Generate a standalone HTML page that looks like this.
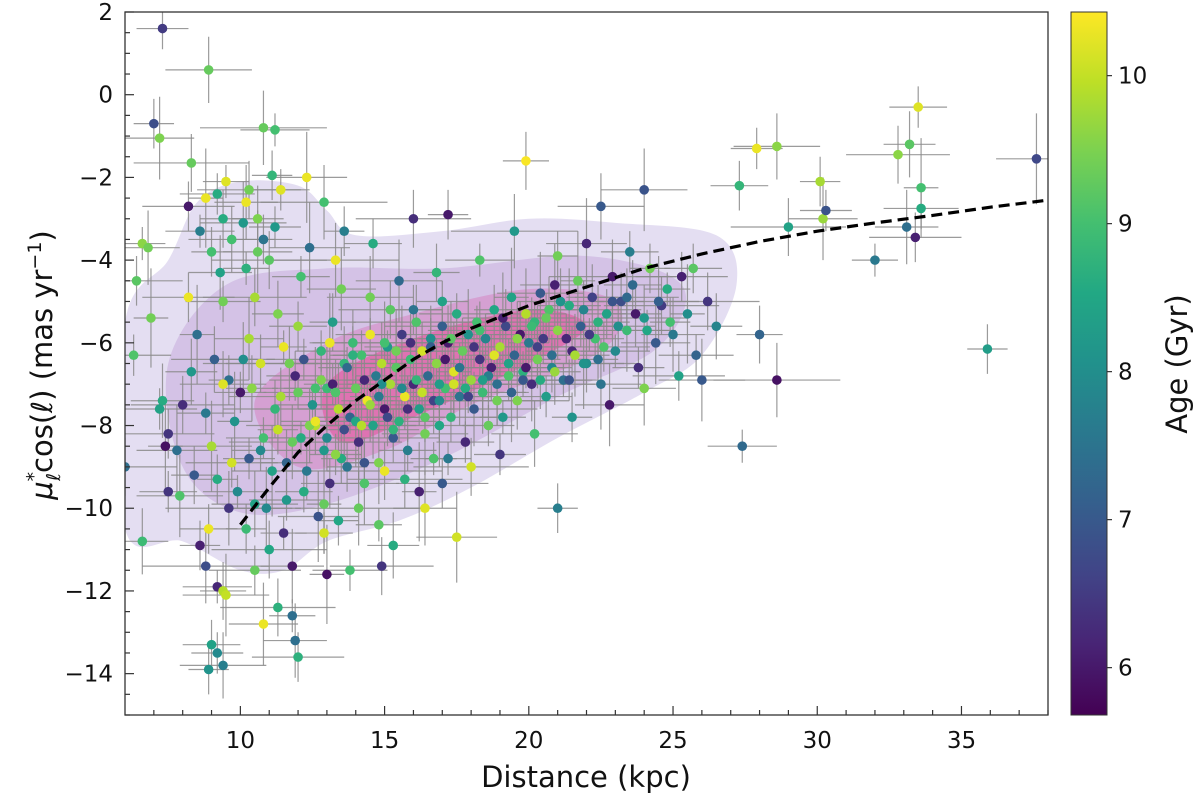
<!DOCTYPE html>
<html>
<head>
<meta charset="utf-8">
<style>
html,body{margin:0;padding:0;background:#fff;}
svg{display:block;font-family:"DejaVu Sans","Liberation Sans",sans-serif;}
</style>
</head>
<body>
<svg id="chart" width="1200" height="803" viewBox="0 0 1200 803" xmlns="http://www.w3.org/2000/svg">
  <defs>
    <clipPath id="plotclip"><rect x="125" y="12" width="923" height="703"/></clipPath>
    <linearGradient id="viridis" x1="0" y1="1" x2="0" y2="0">
      <stop offset="0" stop-color="#440154"/>
      <stop offset="0.1" stop-color="#482475"/>
      <stop offset="0.2" stop-color="#414487"/>
      <stop offset="0.3" stop-color="#355f8d"/>
      <stop offset="0.4" stop-color="#2a788e"/>
      <stop offset="0.5" stop-color="#21918c"/>
      <stop offset="0.6" stop-color="#22a884"/>
      <stop offset="0.7" stop-color="#44bf70"/>
      <stop offset="0.8" stop-color="#7ad151"/>
      <stop offset="0.9" stop-color="#bddf26"/>
      <stop offset="1" stop-color="#fde725"/>
    </linearGradient>
  </defs>
  <g id="kde" clip-path="url(#plotclip)"></g>
  <g id="errbars" clip-path="url(#plotclip)"></g>
  <g id="points" clip-path="url(#plotclip)"></g>
  <g id="fit" clip-path="url(#plotclip)"></g>
  <rect x="125" y="12" width="923" height="703" fill="none" stroke="#333" stroke-width="1.3"/>
  <g id="axes"></g>
  <text x="586" y="787" font-size="29" text-anchor="middle" fill="#111">Distance (kpc)</text>
  <text transform="translate(52,365) rotate(-90)" font-size="29" text-anchor="middle" fill="#111"><tspan font-style="italic">μ</tspan><tspan font-size="19" dy="-12" font-style="italic">*</tspan><tspan font-size="19" dy="20" dx="-9" font-style="italic">ℓ</tspan><tspan dy="-8">cos(</tspan><tspan font-style="italic">ℓ</tspan><tspan>) (mas yr</tspan><tspan font-size="19" dy="-11">−1</tspan><tspan dy="11">)</tspan></text>
  <rect x="1071" y="12" width="36" height="703" fill="url(#viridis)" stroke="#333" stroke-width="1"/>
  <g id="cbticks"></g>
  <text transform="translate(1187,364) rotate(-90)" font-size="29" text-anchor="middle" fill="#111">Age (Gyr)</text>
</svg>
<script>
// ---- data ----
const dist = [
7.3,8.9,7.0,7.2,8.3,6.6,6.8,6.4,6.9,6.3,6.0,6.6,7.5,7.8,8.6,8.8,9.2,9.4,9.5,9.0,9.2,9.4,8.9,10.8,11.3,11.8,11.9,12.0,13.0,13.8,14.9,15.3,12.9,17.5,21.0,10.8,11.2,19.9,24.0,27.3,27.9,28.6,30.1,30.2,29.0,32.0,33.1,33.4,33.6,33.6,32.8,33.2,33.5,37.6,35.9,28.6,27.4,28.0,26.0,25.7,30.3,22.5,17.2,13.5,16.0,
9.5,10.2,8.2,8.8,9.2,10.3,10.6,11.4,12.3,11.1,12.9,8.6,9.4,10.1,10.8,11.2,9.7,9.0,10.6,11.0,10.2,9.3,8.2,8.5,9.4,10.5,11.3,12.1,12.4,13.6,13.3,14.5,13.2,14.5,12.0,12.8,9.1,9.6,10.3,10.7,11.5,
7.3,7.5,7.4,7.2,8.0,8.3,8.8,9.0,9.2,9.6,9.9,8.4,7.9,8.9,10.3,10.5,10.2,10.9,11.0,11.5,11.8,10.5,9.8,10.8,11.2,11.6,12.2,12.7,13.4,14.1,12.0,12.6,13.0,11.9,10.0,9.4,13.7,14.3,15.0,14.8,16.4,17.0,16.2,
12.5,12.8,13.0,13.2,13.4,13.5,13.6,13.8,14.0,14.1,14.2,14.4,14.6,14.7,14.8,15.0,15.1,15.2,15.3,15.4,15.5,15.6,15.7,15.8,15.9,16.0,16.1,16.2,16.3,16.4,16.5,16.6,16.7,16.8,16.9,17.0,17.1,17.2,17.3,17.4,17.5,17.6,17.7,17.8,17.9,18.0,18.1,18.2,18.3,18.4,18.5,18.6,18.7,18.8,18.9,19.0,19.1,19.2,19.3,19.4,19.5,19.6,19.7,19.8,19.9,20.0,20.1,20.2,20.3,20.4,20.5,20.6,20.7,20.8,20.9,21.0,21.2,21.4,21.5,21.7,21.8,22.0,22.2,22.3,22.5,22.7,22.9,23.0,23.2,23.4,23.6,23.8,24.0,24.2,24.4,24.6,24.8,25.0,25.3,25.5,25.8,26.2,26.5,23.5,22.0,21.0,19.5,18.3,16.8,15.5,14.6,19.0,20.2,21.5,22.8,18.0,17.2,24.0,25.2,13.1,12.2,11.4,
10.4,10.7,11.1,11.3,11.7,12.1,12.3,12.6,13.1,13.3,13.9,14.3,14.9,15.7,16.7,10.1,9.7,12.9,11.6,15.2,
13.3,13.7,14.0,14.3,14.5,14.9,15.1,15.4,15.6,15.9,16.1,16.3,16.6,16.9,17.1,17.3,17.6,17.8,18.1,18.3,18.6,18.8,19.1,19.3,19.6,19.8,20.1,20.3,20.6,20.8,21.1,21.3,21.6,21.9,22.1,22.4,22.6,22.9,23.1,23.4,23.7,24.1,24.5,24.9,12.4,12.9,13.6,14.2,14.8,15.3,15.8,16.4,16.9,17.4,17.9,18.4,18.9,19.4,19.9,20.4,20.9,21.4,21.9,22.4,11.8,12.6,13.9,15.0,16.0,17.0
];
const pm = [
1.6,0.6,-0.7,-1.05,-1.65,-3.6,-3.7,-4.5,-5.4,-6.3,-9.0,-10.8,-9.6,-8.6,-10.9,-11.4,-11.9,-12.0,-12.1,-13.3,-13.5,-13.8,-13.9,-12.8,-12.4,-12.6,-13.2,-13.6,-11.6,-11.5,-11.4,-10.9,-10.6,-10.7,-10.0,-0.8,-0.85,-1.6,-2.3,-2.2,-1.3,-1.25,-2.1,-3.0,-3.2,-4.0,-3.2,-3.45,-2.25,-2.75,-1.45,-1.2,-0.3,-1.55,-6.15,-6.9,-8.5,-5.8,-6.9,-4.2,-2.8,-2.7,-2.9,-4.7,-3.0,
-2.1,-2.6,-2.7,-2.5,-2.4,-2.3,-3.0,-2.3,-2.0,-1.95,-2.6,-3.3,-3.0,-3.1,-3.5,-3.2,-3.5,-3.8,-3.8,-4.0,-4.2,-4.3,-4.9,-5.8,-5.0,-4.9,-5.3,-4.4,-3.7,-3.3,-4.0,-5.8,-5.5,-4.9,-5.6,-6.2,-6.4,-6.9,-5.9,-6.5,-6.1,
-7.4,-8.2,-8.5,-7.6,-7.5,-6.7,-7.7,-8.5,-9.3,-10.0,-9.6,-9.2,-9.7,-10.5,-8.8,-9.9,-10.5,-10.0,-11.0,-10.6,-11.4,-11.5,-7.9,-8.3,-7.6,-8.9,-9.6,-10.2,-10.3,-10.0,-7.2,-8.0,-7.1,-6.8,-7.2,-7.0,-9.0,-9.4,-9.1,-10.4,-10.0,-9.4,-9.6,
-7.5,-6.9,-8.3,-7.0,-7.6,-8.8,-6.5,-7.8,-7.1,-8.4,-6.3,-7.4,-8.0,-6.8,-8.9,-7.6,-6.1,-7.0,-8.3,-6.6,-7.9,-5.8,-7.3,-8.6,-6.4,-7.0,-5.5,-7.6,-6.2,-8.2,-6.8,-5.9,-7.4,-6.5,-8.0,-5.6,-7.1,-6.0,-7.8,-6.7,-5.3,-7.3,-6.2,-8.4,-5.8,-6.9,-7.6,-5.5,-6.4,-7.2,-5.9,-8.0,-6.6,-5.2,-7.0,-6.1,-7.8,-5.6,-6.8,-4.9,-6.3,-7.4,-5.8,-6.7,-5.3,-6.0,-7.0,-5.5,-6.4,-4.8,-5.9,-7.3,-5.2,-6.6,-4.6,-5.7,-6.9,-5.1,-6.2,-4.5,-5.6,-6.5,-4.9,-5.9,-7.0,-5.3,-4.4,-6.2,-5.0,-5.7,-4.6,-6.6,-5.4,-4.2,-6.0,-5.1,-4.7,-5.8,-4.4,-5.3,-6.3,-5.0,-5.6,-3.8,-3.6,-3.9,-3.3,-4.0,-4.3,-4.5,-3.6,-8.7,-8.2,-7.8,-7.5,-9.0,-8.8,-7.1,-6.8,-6.0,-6.4,-7.3,
-7.1,-8.6,-9.1,-8.1,-6.5,-8.3,-9.1,-7.1,-9.4,-8.7,-6.0,-8.9,-6.5,-9.3,-8.8,-6.4,-8.9,-9.9,-9.8,-5.2,
-7.2,-6.6,-7.9,-6.9,-7.5,-7.0,-7.8,-6.2,-7.1,-6.0,-6.9,-7.2,-6.1,-7.0,-6.4,-5.9,-6.6,-7.1,-6.1,-5.7,-6.8,-6.3,-5.4,-6.5,-5.9,-6.9,-5.6,-6.1,-5.4,-6.3,-5.0,-5.9,-6.3,-5.2,-5.8,-5.5,-6.1,-5.0,-5.6,-4.9,-5.3,-5.7,-5.0,-5.5,-8.0,-8.6,-8.1,-8.0,-7.3,-8.1,-7.6,-7.8,-7.4,-7.0,-7.3,-6.9,-7.4,-7.2,-6.6,-6.9,-6.7,-6.9,-6.5,-6.4,-8.4,-7.9,-6.3,-6.0,-5.2,-5.0
];
const age = [
6.5,9.3,6.8,9.5,9.3,9.6,9.4,9.2,9.4,9.1,7.4,8.9,6.4,7.4,6.1,6.8,6.2,9.9,10.0,8.4,7.9,7.7,8.1,10.3,8.7,7.4,7.4,8.7,5.9,9.0,6.4,8.6,10.1,10.1,7.7,9.3,9.0,10.4,6.9,8.8,10.3,9.6,9.8,9.7,8.4,7.6,7.4,6.1,9.0,8.6,9.6,9.2,10.2,6.7,8.3,5.9,7.3,7.2,7.0,9.2,6.9,7.0,6.0,9.4,6.3,
10.2,10.3,6.0,10.3,8.6,9.4,9.5,10.2,10.3,8.8,9.0,7.7,8.6,8.2,7.5,8.2,9.0,9.0,9.3,9.2,8.7,8.4,10.3,7.4,9.4,9.8,9.5,9.0,7.4,7.7,10.3,10.3,8.3,9.4,9.7,8.8,7.1,7.4,9.8,10.1,10.3,
8.6,6.4,5.9,8.4,6.3,8.2,7.6,9.8,8.6,6.4,7.9,7.0,9.1,10.3,7.0,8.4,8.9,7.9,8.5,6.3,6.0,9.3,8.1,9.0,8.8,7.2,8.6,6.9,8.5,9.3,9.3,9.9,8.9,6.2,6.0,10.2,7.5,9.1,10.3,9.2,10.2,7.0,6.1,
8.1,9.5,7.9,6.1,9.9,8.6,8.8,7.2,9.3,6.3,9.0,10.3,8.4,7.6,9.5,6.0,8.2,9.8,7.0,9.2,8.7,6.5,10.3,7.7,8.9,6.2,9.1,8.3,10.1,9.4,7.3,8.0,6.6,9.6,8.5,7.1,9.0,6.0,8.8,10.2,8.6,7.5,9.3,6.2,8.1,9.7,7.0,9.0,6.4,8.9,7.8,9.3,6.1,8.5,7.4,9.8,8.2,6.7,9.1,8.4,7.2,9.5,6.0,8.7,9.9,7.6,6.3,8.8,9.4,7.0,6.5,8.3,9.1,7.8,6.1,9.6,7.4,8.6,6.2,9.3,7.1,8.0,6.6,9.0,7.5,8.4,6.0,7.9,6.8,8.9,7.3,6.3,8.2,9.4,7.0,6.5,8.6,7.6,6.1,8.0,7.2,6.4,7.8,7.7,6.2,9.4,8.2,9.1,8.8,7.3,8.6,6.4,9.0,8.1,6.0,10.1,7.6,9.5,8.4,10.3,6.9,9.8,
9.6,7.9,8.4,10.0,9.4,8.6,7.6,9.0,6.3,9.6,8.9,6.9,9.9,8.7,9.1,8.0,10.1,9.3,8.2,9.2,
9.1,7.3,8.5,6.2,9.7,8.0,6.7,9.4,7.9,6.3,8.8,10.0,7.1,8.3,6.0,9.2,7.5,8.6,6.4,9.0,7.7,10.2,6.1,8.4,9.6,7.0,8.9,6.6,9.3,7.4,8.1,6.2,9.8,7.8,6.5,8.7,9.1,6.9,8.0,7.3,6.0,8.5,7.1,9.0,9.5,8.2,6.8,9.9,7.6,8.8,6.3,9.2,7.9,10.1,6.6,8.3,9.4,7.2,6.0,8.6,9.7,6.9,8.1,7.4,9.3,10.3,8.7,9.0,7.5,8.4
];
const errX = [0.9,1.5,0.7,1.2,2.0,0.8,1.1,1.6,0.6,1.3,1.8,0.9,1.0,1.4,0.7,2.2,1.2,0.8,1.5,1.0];
const errY = [0.5,0.8,0.6,1.0,0.7,0.4,0.9,0.6,1.2,0.5,0.7,0.8,0.5,1.1,0.6,0.9,0.4,0.7,1.0,0.6];
const curveD = [10,11,12,13,14,15,16,17,18,20,22,24,26,28,30,32,34,36,38];
const curveV = [-10.4,-9.5,-8.65,-8.0,-7.4,-6.9,-6.4,-6.0,-5.65,-5.1,-4.65,-4.2,-3.85,-3.55,-3.3,-3.1,-2.92,-2.72,-2.55];
const kdeOuterD = [6,7.5,8.5,10,12,13,14,17,20,23,26.5,27.2,26,24,21,18,15.5,13,11.5,10,8,6];
const kdeOuterV = [-5.5,-4,-2.6,-2.1,-2.2,-2.8,-3.4,-3.3,-3.0,-3.1,-3.4,-4.6,-6.3,-7.2,-8.3,-9.5,-10.3,-10.8,-11.5,-11.5,-10.8,-10.5];
const kdeMidD = [7.5,9.5,13,17,22,25.3,24.5,21,17,13,10,8];
const kdeMidV = [-6.5,-4.6,-4.2,-4.2,-3.9,-4.6,-6.1,-7.3,-8.8,-9.9,-10.1,-9.0];
const kdeInnerD = [10.5,13,16,20,23,22.5,18,15,12];
const kdeInnerV = [-7.4,-6.0,-5.3,-4.7,-5.0,-6.2,-7.5,-8.6,-9.0];
const kdeCoreD = [13,16,20,22,20,16,13.5];
const kdeCoreV = [-7.0,-5.9,-5.2,-5.6,-6.5,-7.8,-8.4];
const xTicks = [10,15,20,25,30,35];
const yTicks = [-14,-12,-10,-8,-6,-4,-2,0,2];
const cbTicks = [6,7,8,9,10];

// ---- scales ----
const X0=125,X1=1048,Y0=12,Y1=715, XMIN=6,XMAX=38,YMIN=-15,YMAX=2, AMIN=5.68,AMAX=10.43;
const sx = d => X0 + (d-XMIN)/(XMAX-XMIN)*(X1-X0);
const sy = v => Y1 - (v-YMIN)/(YMAX-YMIN)*(Y1-Y0);
const sa = a => Y1 - (a-AMIN)/(AMAX-AMIN)*(Y1-Y0);
const NS='http://www.w3.org/2000/svg';
const vir = [[68,1,84],[72,36,117],[65,68,135],[53,95,141],[42,120,142],[33,145,140],[34,168,132],[68,191,112],[122,209,81],[189,223,38],[253,231,37]];
function cmap(a){let t=Math.max(0,Math.min(1,(a-AMIN)/(AMAX-AMIN)))*10;let i=Math.min(9,Math.floor(t)),f=t-i;const c=vir[i].map((v,k)=>Math.round(v+(vir[i+1][k]-v)*f));return 'rgb('+c.join(',')+')';}
function mk(tag,parent,attrs){const e=document.createElementNS(NS,tag);for(const k in attrs)e.setAttribute(k,attrs[k]);parent.appendChild(e);return e;}
function smooth(ds,vs){const p=ds.map((d,i)=>[sx(d),sy(vs[i])]);const n=p.length;let s='M'+p[0][0]+','+p[0][1];for(let i=0;i<n;i++){const p0=p[(i-1+n)%n],p1=p[i],p2=p[(i+1)%n],p3=p[(i+2)%n];s+=' C'+(p1[0]+(p2[0]-p0[0])/6)+','+(p1[1]+(p2[1]-p0[1])/6)+' '+(p2[0]-(p3[0]-p1[0])/6)+','+(p2[1]-(p3[1]-p1[1])/6)+' '+p2[0]+','+p2[1];}return s+'Z';}

// KDE
const kde=document.getElementById('kde');
[[kdeOuterD,kdeOuterV,'rgba(205,195,232,0.55)','kde-outer'],[kdeMidD,kdeMidV,'rgba(196,165,218,0.5)','kde-mid'],[kdeInnerD,kdeInnerV,'rgba(214,110,180,0.4)','kde-inner'],[kdeCoreD,kdeCoreV,'rgba(232,60,140,0.45)','kde-core']].forEach(c=>{
  const e=mk('path',kde,{d:smooth(c[0],c[1]),fill:c[2]});
  
  
});

// error bars & points
const eb=document.getElementById('errbars'), pg=document.getElementById('points');
const n=Math.min(dist.length,pm.length,age.length);
for(let i=0;i<n;i++){
  const x=sx(dist[i]),y=sy(pm[i]);
  const ex=errX[i%errX.length]*(X1-X0)/(XMAX-XMIN), ey=errY[i%errY.length]*(Y1-Y0)/(YMAX-YMIN);
  const l=mk('path',eb,{d:`M${x-ex},${y}H${x+ex}M${x},${y-ey}V${y+ey}`,stroke:'#8a8a8a','stroke-width':1.2,'stroke-opacity':0.85,fill:'none'});
  
  
}
for(let i=0;i<n;i++){
  const c=mk('circle',pg,{cx:sx(dist[i]),cy:sy(pm[i]),r:4.8,fill:cmap(age[i])});
  
  
}

// fit curve
const fit=document.getElementById('fit');
const fc=mk('path',fit,{d:'M'+curveD.map((d,i)=>sx(d)+','+sy(curveV[i])).join(' L'),fill:'none',stroke:'#000','stroke-width':3.2,'stroke-dasharray':'11,6'});



// axes ticks
const ax=document.getElementById('axes');
for(let d=7;d<=38;d++){
  const major=xTicks.includes(d);const L=major?9:5;
  const t=mk('line',ax,{x1:sx(d),x2:sx(d),y1:Y1,y2:Y1-L,stroke:'#333','stroke-width':1.2});
  
  
}
xTicks.forEach(d=>{const t=mk('text',ax,{x:sx(d),y:748,'font-size':23,'text-anchor':'middle',fill:'#111'});t.textContent=d;
  
  });
for(let v=-15;v<=2.001;v+=0.5){
  const major=Math.abs(v-Math.round(v))<1e-6 && yTicks.includes(Math.round(v));const L=major?9:5;
  const t=mk('line',ax,{x1:X0,x2:X0+L,y1:sy(v),y2:sy(v),stroke:'#333','stroke-width':1.2});
  
  
}
yTicks.forEach(v=>{const t=mk('text',ax,{x:113,y:sy(v)+8,'font-size':23,'text-anchor':'end',fill:'#111'});t.textContent=(v<0?'−':'')+Math.abs(v);
  
  });

// colorbar ticks
const cb=document.getElementById('cbticks');
cbTicks.forEach(a=>{
  const t=mk('line',cb,{x1:1107,x2:1112,y1:sa(a),y2:sa(a),stroke:'#333','stroke-width':1.2});
  
  
  const s=mk('text',cb,{x:1118,y:sa(a)+8,'font-size':23,fill:'#111'});s.textContent=a;
  
  
});
</script>
</body>
</html>
